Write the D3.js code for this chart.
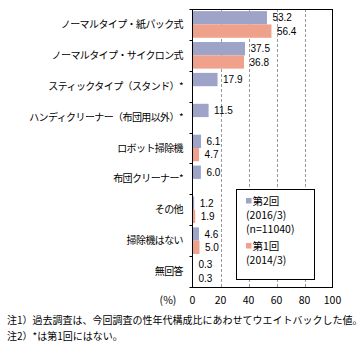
<!DOCTYPE html>
<html><head><meta charset="utf-8">
<script src="https://cdn.jsdelivr.net/npm/d3@7"></script>
<style>
html,body{margin:0;padding:0;background:#fff;}
svg{display:block;}
text{font-family:"Noto Sans CJK JP","Noto Sans",sans-serif;fill:#000;}
text.num{font-family:"Liberation Sans","Noto Sans",sans-serif;}
</style></head>
<body>
<script>
const categories = ["ノーマルタイプ・紙パック式","ノーマルタイプ・サイクロン式","スティックタイプ（スタンド）*","ハンディクリーナー（布団用以外）*","ロボット掃除機","布団クリーナー*","その他","掃除機はない","無回答"];
const seriesNames = ["第2回","第1回"];
const seriesSub = [["(2016/3)","(n=11040)"],["(2014/3)"]];
const wave2 = [53.2, 37.5, 17.9, 11.5, 6.1, 6.0, 1.2, 4.6, 0.3];
const wave1 = [56.4, 36.8, null, null, 4.7, null, 1.9, 5.0, 0.3];
const xTicks = [0, 20, 40, 60, 80, 100];
const notes = ["注1）過去調査は、今回調査の性年代構成比にあわせてウエイトバックした値。","注2）*は第1回にはない。"];
const colors = ["#9ea3c8", "#f0a18b"];

const W = 363, H = 345;
const L = 192.5, R = 332.5, T = 9, B = 287;
const svg = d3.select("body").append("svg").attr("width", W).attr("height", H);

const x = d3.scaleLinear().domain([0, 100]).range([L, R]);
const y = d3.scaleBand().domain(categories).range([T, B]).padding(0);
const ys = d3.scaleBand().domain(seriesNames).range([0, y.bandwidth()]).paddingInner(0).paddingOuter(0.16);

// gridlines
svg.append("g").selectAll("line").data(xTicks.filter(d => d > 0 && d < 100)).join("line")
  .attr("x1", d => Math.round(x(d)) + 0.5).attr("x2", d => Math.round(x(d)) + 0.5)
  .attr("y1", T).attr("y2", B)
  .attr("stroke", "#999").attr("stroke-dasharray", "3,2").attr("stroke-width", 1);

// bars
const data = [wave2, wave1];
data.forEach((vals, si) => {
  const g = svg.append("g");
  const items = categories.map((c, i) => ({c, v: vals[i]})).filter(d => d.v != null);
  g.selectAll("rect").data(items).join("rect")
    .attr("x", x(0)).attr("y", d => y(d.c) + ys(seriesNames[si]))
    .attr("width", d => x(d.v) - x(0)).attr("height", ys.bandwidth())
    .attr("fill", colors[si]);
  g.selectAll("text").data(items).join("text").attr("class", "num")
    .attr("x", d => x(d.v) + 5.5).attr("y", d => y(d.c) + ys(seriesNames[si]) + ys.bandwidth() / 2)
    .attr("dy", "0.36em").attr("font-size", 10).text(d => d.v.toFixed(1));
});

// frame
svg.append("rect").attr("x", L).attr("y", T + 0.5).attr("width", R - L).attr("height", B - T)
  .attr("fill", "none").attr("stroke", "#000").attr("stroke-width", 1);

// left axis
const yAxis = svg.append("g");
const bounds = categories.map(c => y(c)).concat([B]);
yAxis.selectAll("line").data(bounds).join("line")
  .attr("x1", L - 3).attr("x2", L).attr("y1", d => Math.round(d) + 0.5).attr("y2", d => Math.round(d) + 0.5)
  .attr("stroke", "#000");
yAxis.selectAll("text").data(categories).join("text")
  .attr("x", 183).attr("y", d => y(d) + y.bandwidth() / 2).attr("dy", "0.36em")
  .attr("text-anchor", "end").attr("font-size", 10).attr("letter-spacing", -0.6).text(d => d);

// bottom axis labels
svg.append("g").selectAll("text").data(xTicks).join("text")
  .attr("x", d => x(d)).attr("y", 300).attr("dy", "0.36em").attr("text-anchor", "middle")
  .attr("font-size", 10.5).text(d => d);
svg.append("text").attr("x", 168).attr("y", 300).attr("dy", "0.36em").attr("text-anchor", "middle")
  .attr("font-size", 10.5).text("(%)");

// legend
const lg = svg.append("g");
lg.append("rect").attr("x", 236.5).attr("y", 189.5).attr("width", 78).attr("height", 90)
  .attr("fill", "#fff").attr("stroke", "#000");
const legRows = [[201, 215, 229], [246, 260]];
seriesNames.forEach((s, i) => {
  const r = legRows[i];
  lg.append("rect").attr("x", 246).attr("y", r[0] - 3).attr("width", 5.5).attr("height", 5.5).attr("fill", colors[i]);
  lg.append("text").attr("x", 252.5).attr("y", r[0]).attr("dy", "0.36em").attr("font-size", 10.5).text(s);
  seriesSub[i].forEach((t, j) => {
    lg.append("text").attr("x", 246).attr("y", r[j + 1]).attr("dy", "0.36em").attr("font-size", 10.5).text(t);
  });
});

// notes
svg.append("g").selectAll("text").data(notes).join("text")
  .attr("x", 7).attr("y", (d, i) => 320 + i * 16).attr("dy", "0.36em").attr("font-size", 10).text(d => d);
</script>
</body></html>
